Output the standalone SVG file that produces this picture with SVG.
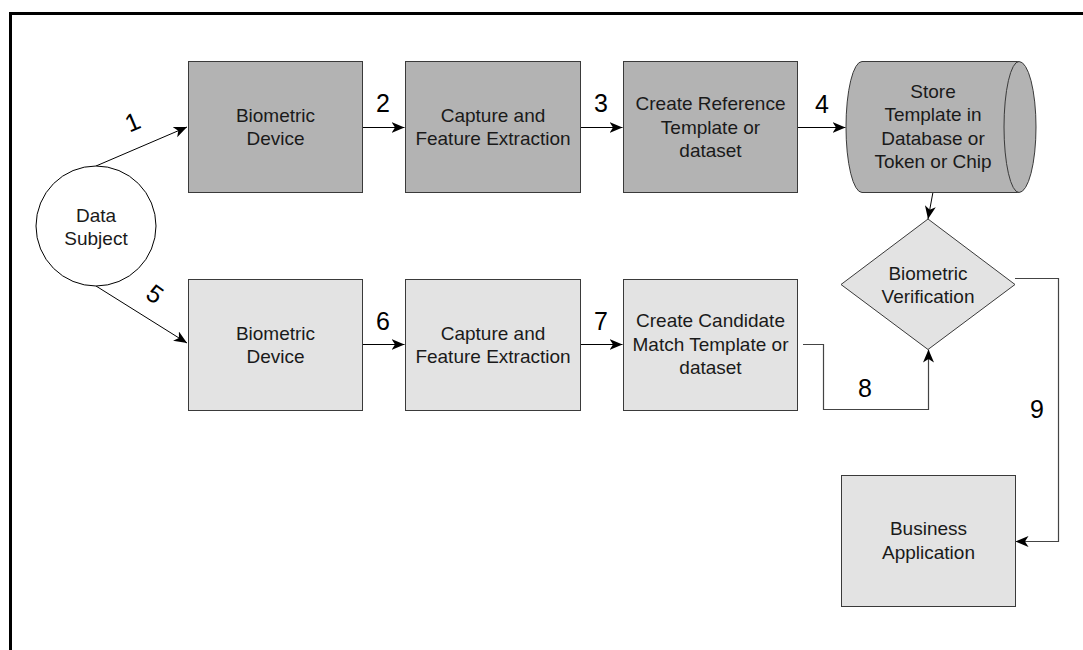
<svg xmlns="http://www.w3.org/2000/svg" width="1083" height="650" viewBox="0 0 1083 650">
<defs>
<style>
text{font-family:"Liberation Sans",Arial,sans-serif;fill:#1a1a1a;text-anchor:middle}
.t{font-size:19px}
.n{font-size:25px;fill:#000}
.dark{fill:#b3b3b3;stroke:#3a3a3a;stroke-width:1}
.light{fill:#e3e3e3;stroke:#3a3a3a;stroke-width:1}
.c{fill:none;stroke:#000;stroke-width:1}
.g{fill:none;stroke:#444;stroke-width:1.2}
</style>
<marker id="ah" markerUnits="userSpaceOnUse" markerWidth="14" markerHeight="12" refX="13" refY="5.5" orient="auto" viewBox="0 0 14 12">
<path d="M0,0 L13,5.5 L0,11 L3.5,5.5 Z" fill="#000"/>
</marker>
</defs>
<rect x="0" y="0" width="1083" height="650" fill="#fff"/>
<path d="M10.5,650 V13.5 H1083" fill="none" stroke="#000" stroke-width="3"/>

<g id="connectors">
<path class="c" d="M96,166 L187,127" marker-end="url(#ah)"/>
<path class="c" d="M362,127.5 H404.5" marker-end="url(#ah)"/>
<path class="c" d="M580,127.5 H622.5" marker-end="url(#ah)"/>
<path class="c" d="M797,127.5 H845.5" marker-end="url(#ah)"/>
<path class="c" d="M933,192 L928,219" marker-end="url(#ah)"/>
<path class="c" d="M96,286 L187,343" marker-end="url(#ah)"/>
<path class="c" d="M362,344.5 H404.5" marker-end="url(#ah)"/>
<path class="c" d="M580,344.5 H622.5" marker-end="url(#ah)"/>
<path class="g" d="M803,344.5 H823.5 V409.5 H928.5 V349.5" marker-end="url(#ah)"/>
<path class="g" d="M1015,278.5 H1058.5 V541.5 H1015.5" marker-end="url(#ah)"/>
<text class="n" transform="translate(136,130) rotate(-23)">1</text>
<text class="n" x="383" y="112">2</text>
<text class="n" x="601" y="112">3</text>
<text class="n" x="822" y="113">4</text>
<text class="n" transform="translate(150,301) rotate(36)">5</text>
<text class="n" x="383" y="330">6</text>
<text class="n" x="601" y="330">7</text>
<text class="n" x="865" y="397">8</text>
<text class="n" x="1037" y="418">9</text>
</g>

<g id="data-subject">
<circle cx="96" cy="226" r="60" fill="#fff" stroke="#000" stroke-width="1"/>
<text class="t" x="96" y="222">Data</text>
<text class="t" x="96" y="245">Subject</text>
</g>

<g id="biometric-device-1">
<rect class="dark" x="188.5" y="61.5" width="174" height="131"/>
<text class="t" x="275.5" y="122">Biometric</text>
<text class="t" x="275.5" y="145">Device</text>
</g>

<g id="capture-1">
<rect class="dark" x="405.5" y="61.5" width="175" height="131"/>
<text class="t" x="493" y="122">Capture and</text>
<text class="t" x="493" y="145">Feature Extraction</text>
</g>

<g id="create-reference">
<rect class="dark" x="623.5" y="61.5" width="174" height="131"/>
<text class="t" x="710.5" y="110">Create Reference</text>
<text class="t" x="710.5" y="133.5">Template or</text>
<text class="t" x="710.5" y="157">dataset</text>
</g>

<g id="store-template">
<path class="dark" d="M862,61.5 H1019 A17,65.5 0 0 1 1019,192.5 H862 A16,65.5 0 0 1 862,61.5 Z"/>
<path class="dark" d="M1019,61.5 A15,65.5 0 0 0 1019,192.5"/>
<text class="t" x="933" y="98">Store</text>
<text class="t" x="933" y="121">Template in</text>
<text class="t" x="933" y="145">Database or</text>
<text class="t" x="933" y="168">Token or Chip</text>
</g>

<g id="biometric-verification">
<path class="light" d="M928,219 L1015,284.5 L928,349.5 L841,284.5 Z"/>
<text class="t" x="928" y="280">Biometric</text>
<text class="t" x="928" y="303">Verification</text>
</g>

<g id="biometric-device-2">
<rect class="light" x="188.5" y="279.5" width="174" height="131"/>
<text class="t" x="275.5" y="340">Biometric</text>
<text class="t" x="275.5" y="363">Device</text>
</g>

<g id="capture-2">
<rect class="light" x="405.5" y="279.5" width="175" height="131"/>
<text class="t" x="493" y="340">Capture and</text>
<text class="t" x="493" y="363">Feature Extraction</text>
</g>

<g id="create-candidate">
<rect class="light" x="623.5" y="279.5" width="174" height="131"/>
<text class="t" x="710.5" y="327">Create Candidate</text>
<text class="t" x="710.5" y="351">Match Template or</text>
<text class="t" x="710.5" y="374">dataset</text>
</g>

<g id="business-application">
<rect class="light" x="841.5" y="475.5" width="174" height="131"/>
<text class="t" x="928.5" y="535">Business</text>
<text class="t" x="928.5" y="559">Application</text>
</g>
</svg>
